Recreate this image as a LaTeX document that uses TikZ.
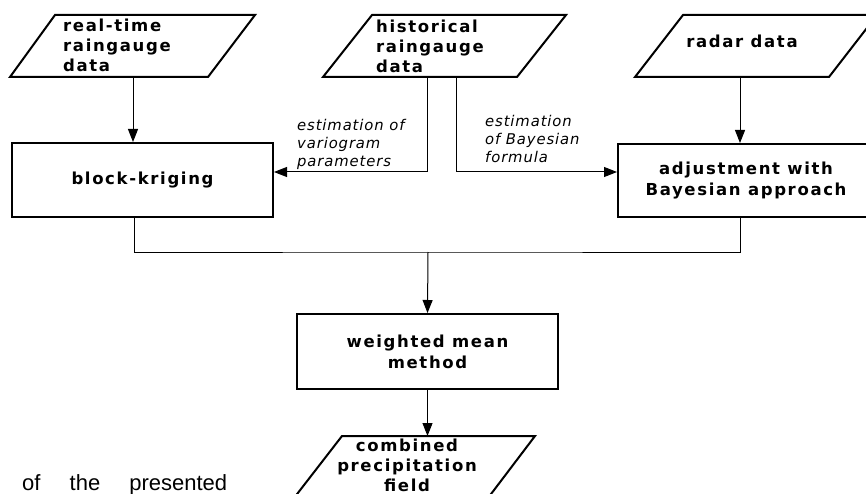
\documentclass[tikz,border=0pt]{standalone}
\usepackage{fontspec}
\usetikzlibrary{arrows.meta,calc}
\setmainfont{DejaVu Sans}
\newfontfamily\boxfont{DejaVu Sans}[LetterSpace=10]
\newfontfamily\labfont{DejaVu Sans}[LetterSpace=6]
\newfontfamily\capfont{Liberation Sans}
\tikzset{
  pshape/.style={draw, line width=2pt},
  box/.style={draw, line width=2pt, font=\boxfont\bfseries\fontsize{16.5}{21}\selectfont, align=center, inner sep=0pt},
  btext/.style={font=\boxfont\bfseries\fontsize{16.5}{20}\selectfont, inner sep=0pt},
  ltext/.style={font=\labfont\itshape\fontsize{14.8}{18}\selectfont, align=left, inner sep=0pt},
  conn/.style={line width=1pt},
  arr/.style={conn, -{Triangle[length=13pt,width=10pt]}},
  capt/.style={font=\capfont\fontsize{22}{26}\selectfont, inner sep=0pt}
}
\begin{document}
\begin{tikzpicture}[x=1pt,y=-1pt]
\useasboundingbox (0,0) rectangle (866,494);
% parallelograms
\draw[pshape] (55,15) -- (255,15) -- (208,77) -- (10,77) -- cycle;
\draw[pshape] (372,15) -- (566,15) -- (517,77) -- (323,77) -- cycle;
\draw[pshape] (683,15) -- (877,15) -- (829,77) -- (635,77) -- cycle;
\draw[pshape] (342,436) -- (535,436) -- (488,498) -- (294,498) -- cycle;
% texts of parallelograms (base = last line)
\node[btext, anchor=base west, align=left] (rt) at (63,72) {real-time\\raingauge\\data};
\node[btext, anchor=base west, align=left] (hist) at (376,73) {historical\\raingauge\\data};
\node[btext, anchor=base] (radar) at (742,48) {radar data};
\node[btext, anchor=base, align=center] (comb) at (407,491) {combined\\precipitation\\field};
% boxes
\node[box, minimum width=261pt, minimum height=74pt] (bk) at (142.5,180) {block-kriging};
\node[box, minimum width=256pt, minimum height=73pt] (adj) at (746,180.5) {adjustment with\\Bayesian approach};
\node[box, minimum width=261pt, minimum height=75pt] (wm) at (427.5,351.5) {weighted mean\\method};
% labels
\node[ltext, anchor=base west] (l1) at (297,167) {estimation of\\variogram\\parameters};
\node[ltext, anchor=base west] (l2) at (485,163) {estimation\\of Bayesian\\formula};
% caption fragment
\node[capt, anchor=base west] (cap) at (22,490) {\makebox[205pt][s]{of the presented}};
% connector points
\coordinate (rtout) at (133,77);
\coordinate (hl) at (427,77);
\coordinate (hr) at (456,77);
\coordinate (radout) at (740,77);
\coordinate (m) at (428,252);
\coordinate (combtop) at (427.5,436);
% connectors
\draw[arr] (rtout) -- (rtout |- bk.north);
\draw[arr] (radout) -- (radout |- adj.north);
\draw[arr] (hl) |- ($(bk.east)+(0,-8)$);
\draw[arr] (hr) |- ($(adj.west)+(0,-8.5)$);
\draw[conn] ($(bk.south)+(-8.5,0)$) |- (m) -| ($(adj.south)+(-6,0)$);
\draw[arr] (m) -- (wm.north);
\draw[arr] (wm.south) -- (combtop);
\end{tikzpicture}
\end{document}
